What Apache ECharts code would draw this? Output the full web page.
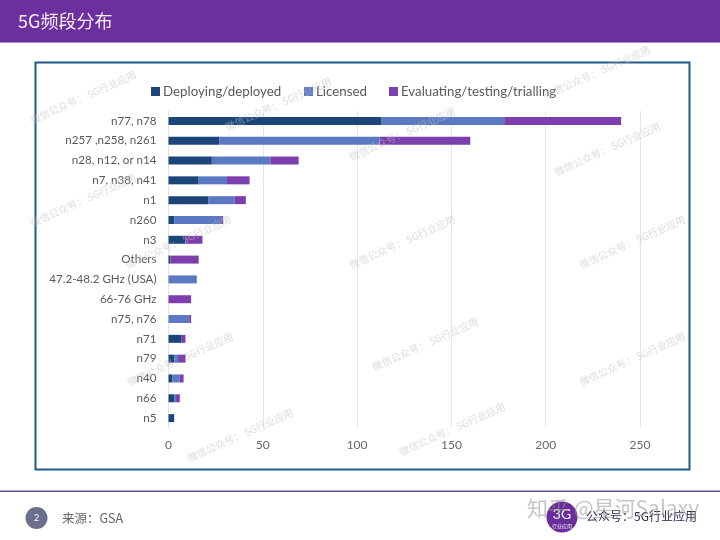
<!DOCTYPE html>
<html>
<head>
<meta charset="utf-8">
<style>
html,body{margin:0;padding:0;background:#fff}
#chart{width:720px;height:540px}
</style>
<script src="https://cdn.jsdelivr.net/npm/echarts@6/dist/echarts.min.js"></script>
</head>
<body>
<div id="chart"></div>
<script>
const categories = ["n77, n78","n257 ,n258, n261","n28, n12, or n14","n7, n38, n41","n1","n260","n3","Others","47.2-48.2 GHz (USA)","66-76 GHz","n75, n76","n71","n79","n40","n66","n5"]
const deployed = [113,27,23,16,21,3,9,1,0,0,0,7,3,2,3,3]
const licensed = [65,85,31,15,14,25,0,0,15,0,11,0,2,4,1,0]
const evaluating = [62,48,15,12,6,1,9,15,0,12,1,2,4,2,2,0]
const seriesNames = ["Deploying/deployed","Licensed","Evaluating/testing/trialling"]
// 水印位置 左下角起点
const marks = [[33,125],[33,228],[128,270],[130,387],[190,463],[228,132],[352,162],[352,270],[375,372],[402,457],[547,100],[557,177],[582,270],[582,387]]

const font = "Lato, 'Noto Sans', sans-serif"
const cjk = "'Noto Sans CJK SC', sans-serif"

const barSeries = (name,data,color) => ({
	name: name,
	type: "bar",
	stack: "total",
	barWidth: 8,
	itemStyle: {color: color},
	data: data
})

const legendAt = (left,name) => ({
	top: 80,
	left: left,
	itemWidth: 9,
	itemHeight: 9,
	icon: "rect",
	textStyle: {fontFamily: font, fontSize: 13.3, color: "#595959", padding: [0,0,0,-2]},
	data: [name]
})

const chart = echarts.init(document.getElementById("chart"))
chart.setOption({
	animation: false,
	backgroundColor: "#fff",
	legend: [legendAt(146,seriesNames[0]),legendAt(299,seriesNames[1]),legendAt(384,seriesNames[2])],
	grid: {left: 168.5, top: 111, width: 471.5, height: 317},
	xAxis: {
		type: "value",
		min: 0,
		max: 250,
		interval: 50,
		axisLine: {show: false},
		axisTick: {show: false},
		axisLabel: {fontFamily: font, fontSize: 12, color: "#666", margin: 11},
		splitLine: {lineStyle: {color: "#e6e6ea", width: 1}}
	},
	yAxis: {
		type: "category",
		inverse: true,
		data: categories,
		axisLine: {lineStyle: {color: "#dfe3ee"}},
		axisTick: {show: false},
		axisLabel: {fontFamily: font, fontSize: 11.6, color: "#595959", margin: 12}
	},
	series: [
		barSeries(seriesNames[0],deployed,"#1c4679"),
		barSeries(seriesNames[1],licensed,"#5b78c2"),
		barSeries(seriesNames[2],evaluating,"#7d3fae")
	],
	graphic: [
		// 顶部色条
		{type:"rect",z:-10,shape:{x:0,y:0,width:720,height:42},style:{fill:"#6d2f9e"}},
		{type:"rect",z:-10,shape:{x:0,y:41.5,width:720,height:1},style:{fill:"#5f2a8c"}},
		{type:"text",x:18,y:21,style:{text:"5G频段分布",fill:"#f4eefa",font:"18px "+cjk,verticalAlign:"middle"}},
		// 图表外框
		{type:"rect",z:-9,shape:{x:35.5,y:62.5,width:654,height:407},style:{fill:"#fff",stroke:"#1f5a8a",lineWidth:2}},
		// 底部
		{type:"rect",shape:{x:0,y:490.5,width:720,height:1.5},style:{fill:"#6a4a98"}},
		{type:"circle",shape:{cx:36.5,cy:518,r:11},style:{fill:"#6b6f8c"}},
		{type:"text",x:36.5,y:518,style:{text:"2",fill:"#fff",font:"9px "+font,align:"center",verticalAlign:"middle"}},
		{type:"text",x:62,y:518,style:{text:"来源：GSA",fill:"#666",font:"12.5px "+cjk,verticalAlign:"middle"}},
		{type:"circle",shape:{cx:562,cy:517,r:15.5},style:{fill:"#6a2d9c"}},
		{type:"text",x:562,y:514,style:{text:"3G",fill:"#fff",font:"14px "+font,align:"center",verticalAlign:"middle"}},
		{type:"text",x:562,y:526,style:{text:"行业应用",fill:"#eee",font:"5px "+cjk,align:"center",verticalAlign:"middle"}},
		{type:"text",x:586,y:516,style:{text:"公众号：5G行业应用",fill:"#2f2550",font:"12px "+cjk,verticalAlign:"middle"}},
		{type:"text",x:527,y:508,z:20,style:{text:"知乎 @星河Salaxy",fill:"rgba(150,150,150,0.55)",font:"21px "+cjk,verticalAlign:"middle"}},
		// 水印
		...marks.map(m => ({
			type: "text",
			x: m[0],
			y: m[1],
			rotation: 0.42,
			z: 20,
			style: {text:"微信公众号： 5G行业应用",fill:"rgba(190,190,190,0.55)",font:"10px "+cjk,verticalAlign:"bottom"}
		}))
	]
})
</script>
</body>
</html>
